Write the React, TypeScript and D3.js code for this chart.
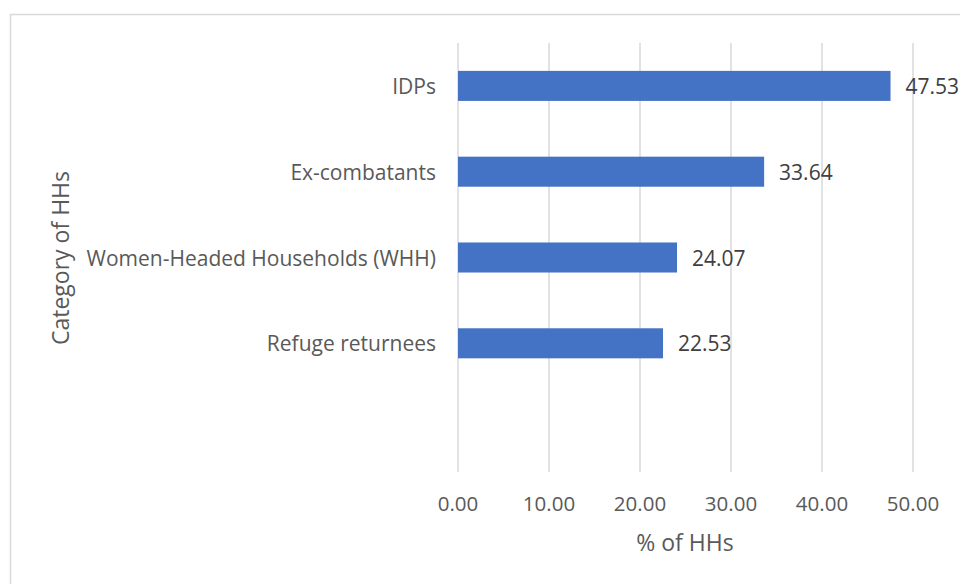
import React from "react";
import * as d3 from "d3";

const categories = ["IDPs", "Ex-combatants", "Women-Headed Households (WHH)", "Refuge returnees", ""];
const values = [47.53, 33.64, 24.07, 22.53, null];
const xTicks = [0, 10, 20, 30, 40, 50];
const xTitle = "% of HHs";
const yTitle = "Category of HHs";

const FONT = "'Open Sans', 'Noto Sans', sans-serif";

export default function App() {
  const W = 960, H = 584;
  const left = 458, right = 913, top = 43, bottom = 472;
  const x = d3.scaleLinear().domain([0, 50]).range([left, right]);
  const y = d3.scaleBand<string>().domain(categories.map((c, i) => String(i))).range([top, bottom]).paddingInner(0.65).paddingOuter(0.325);
  return (
    <svg width={W} height={H} style={{ position: "absolute", left: 0, top: 0, background: "#fff" }}>
      <rect x={10.5} y={14.5} width={W + 20} height={H + 20} fill="#fff" stroke="#d9d9d9" strokeWidth={1.5} />
      {xTicks.map((t) => (
        <g key={t}>
          <line x1={x(t)} x2={x(t)} y1={top} y2={bottom} stroke="#d9d9d9" strokeWidth={1.5} />
          <text x={x(t)} y={503} textAnchor="middle" dominantBaseline="central" fontFamily={FONT} fontSize={20.5} fill="#595959">
            {t.toFixed(2)}
          </text>
        </g>
      ))}
      {categories.map((c, i) => {
        const v = values[i];
        const yy = y(String(i))!;
        const bw = y.bandwidth();
        return (
          <g key={i}>
            {v != null && (
              <>
                <rect x={x(0)} y={yy} width={x(v) - x(0)} height={bw} fill="#4472C4" />
                <text x={x(v) + 15} y={yy + bw / 2} dominantBaseline="central" fontFamily={FONT} fontSize={21} fill="#404040">
                  {v.toFixed(2)}
                </text>
              </>
            )}
            {c && (
              <text x={436} y={yy + bw / 2} textAnchor="end" dominantBaseline="central" fontFamily={FONT} fontSize={21} fill="#595959">
                {c}
              </text>
            )}
          </g>
        );
      })}
      <text x={685} y={542} textAnchor="middle" dominantBaseline="central" fontFamily={FONT} fontSize={23} fill="#595959">
        {xTitle}
      </text>
      <text transform={`translate(60,258) rotate(-90)`} textAnchor="middle" dominantBaseline="central" fontFamily={FONT} fontSize={23} fill="#595959">
        {yTitle}
      </text>
    </svg>
  );
}
